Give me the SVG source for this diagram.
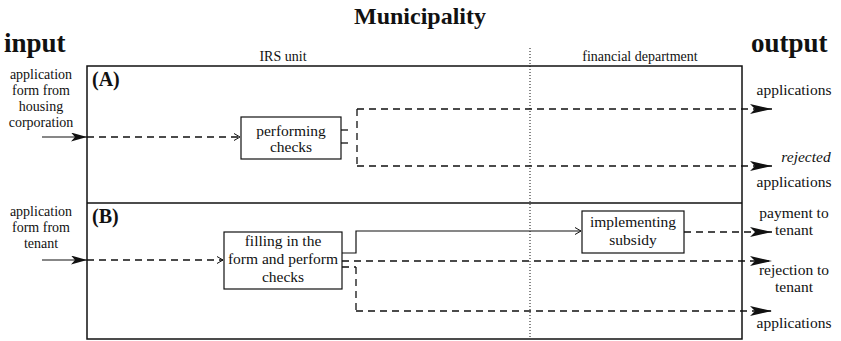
<svg xmlns="http://www.w3.org/2000/svg" width="841" height="341" viewBox="0 0 841 341">
  <defs>
    <marker id="big" viewBox="0 0 22 10" refX="22" refY="5" markerWidth="22" markerHeight="10" markerUnits="userSpaceOnUse" orient="auto">
      <path d="M0,0 L22,5 L0,10 L5,5 Z" fill="#111"/>
    </marker>
    <marker id="mid" viewBox="0 0 16 9" refX="16" refY="4.5" markerWidth="16" markerHeight="9" markerUnits="userSpaceOnUse" orient="auto">
      <path d="M0,0 L16,4.5 L0,9 L4,4.5 Z" fill="#111"/>
    </marker>
    <marker id="open" viewBox="0 0 6 8" refX="6" refY="4" markerWidth="6" markerHeight="8" markerUnits="userSpaceOnUse" orient="auto">
      <path d="M0,0.5 L6,4 L0,7.5" fill="none" stroke="#111" stroke-width="1"/>
    </marker>
  </defs>
  <style>
    .title { font-size: 24px; font-weight: bold; }
    .io { font-size: 27px; font-weight: bold; }
    .tag { font-size: 20px; font-weight: bold; }
    .lbl { font-size: 15.5px; text-anchor: middle; }
    .in { font-size: 14px; text-anchor: middle; }
    .dept { font-size: 14px; text-anchor: middle; }
    .frame { fill: none; stroke: #111; stroke-width: 1.5; }
    .box { fill: #fff; stroke: #111; stroke-width: 1.2; }
    .solid { fill: none; stroke: #111; stroke-width: 1.2; }
    .dash { fill: none; stroke: #111; stroke-width: 1.3; stroke-dasharray: 7 5; }
    .dot { fill: none; stroke: #111; stroke-width: 1; stroke-dasharray: 1 2; }
  </style>

  <g font-family="Liberation Serif, DejaVu Serif, serif" fill="#111">
    <!-- headings -->
    <text class="title" x="420" y="24" text-anchor="middle">Municipality</text>
    <text class="io" x="4" y="52">input</text>
    <text class="io" x="751" y="52">output</text>
    <text class="dept" x="283" y="61">IRS unit</text>
    <text class="dept" x="640" y="61">financial department</text>

    <!-- frame with two lanes -->
    <g id="frame">
      <rect class="frame" x="87" y="66" width="655" height="273"/>
      <line class="frame" x1="87" y1="203" x2="742" y2="203"/>
      <line class="dot" x1="530" y1="48" x2="530" y2="339"/>
      <text class="tag" x="92" y="86">(A)</text>
      <text class="tag" x="92" y="223">(B)</text>
    </g>

    <!-- input labels -->
    <g id="input-a">
      <text class="in" x="41" y="79">application</text>
      <text class="in" x="41" y="95">form from</text>
      <text class="in" x="41" y="111">housing</text>
      <text class="in" x="41" y="127">corporation</text>
    </g>
    <g id="input-b">
      <text class="in" x="41" y="216">application</text>
      <text class="in" x="41" y="232">form from</text>
      <text class="in" x="41" y="248">tenant</text>
    </g>

    <!-- process nodes -->
    <g id="performing-checks">
      <rect class="box" x="241" y="117" width="100" height="42"/>
      <text class="lbl" x="291" y="136">performing</text>
      <text class="lbl" x="291" y="152">checks</text>
    </g>
    <g id="filling-in">
      <rect class="box" x="224" y="232" width="118" height="57"/>
      <text class="lbl" x="283" y="246">filling in the</text>
      <text class="lbl" x="283" y="264">form and perform</text>
      <text class="lbl" x="283" y="282">checks</text>
    </g>
    <g id="implementing-subsidy">
      <rect class="box" x="582" y="211" width="102" height="42"/>
      <text class="lbl" x="633" y="227">implementing</text>
      <text class="lbl" x="633" y="245">subsidy</text>
    </g>

    <!-- output labels -->
    <g id="output-a">
      <text class="lbl" x="794" y="95">applications</text>
      <text class="lbl" x="806" y="162" font-style="italic">rejected</text>
      <text class="lbl" x="794" y="187">applications</text>
    </g>
    <g id="output-b">
      <text class="lbl" x="794" y="218">payment to</text>
      <text class="lbl" x="794" y="235">tenant</text>
      <text class="lbl" x="794" y="275">rejection to</text>
      <text class="lbl" x="794" y="292">tenant</text>
      <text class="lbl" x="794" y="328">applications</text>
    </g>
  </g>

  <!-- connectors -->
  <g id="connectors">
    <!-- lane A -->
    <line class="solid" x1="42" y1="137" x2="87" y2="137" marker-end="url(#mid)"/>
    <line class="dash" x1="87" y1="137" x2="240" y2="137" marker-end="url(#open)"/>
    <line class="dash" x1="341" y1="130" x2="349" y2="130"/>
    <line class="dash" x1="341" y1="143" x2="349" y2="143"/>
    <line class="dash" x1="357" y1="109" x2="357" y2="166"/>
    <line class="dash" x1="357" y1="109" x2="772" y2="109" marker-end="url(#big)"/>
    <line class="dash" x1="357" y1="166" x2="772" y2="166" marker-end="url(#big)"/>

    <!-- lane B -->
    <line class="solid" x1="42" y1="260" x2="87" y2="260" marker-end="url(#mid)"/>
    <line class="dash" x1="87" y1="260" x2="223" y2="260" marker-end="url(#open)"/>
    <polyline class="solid" points="342,253 356,253 356,231 581,231" marker-end="url(#open)"/>
    <line class="dash" x1="684" y1="232" x2="772" y2="232" marker-end="url(#big)"/>
    <line class="dash" x1="342" y1="261" x2="772" y2="261" marker-end="url(#big)"/>
    <line class="dash" x1="342" y1="267" x2="356" y2="267"/>
    <line class="dash" x1="356" y1="267" x2="356" y2="311"/>
    <line class="dash" x1="356" y1="311" x2="772" y2="311" marker-end="url(#big)"/>
  </g>
</svg>
